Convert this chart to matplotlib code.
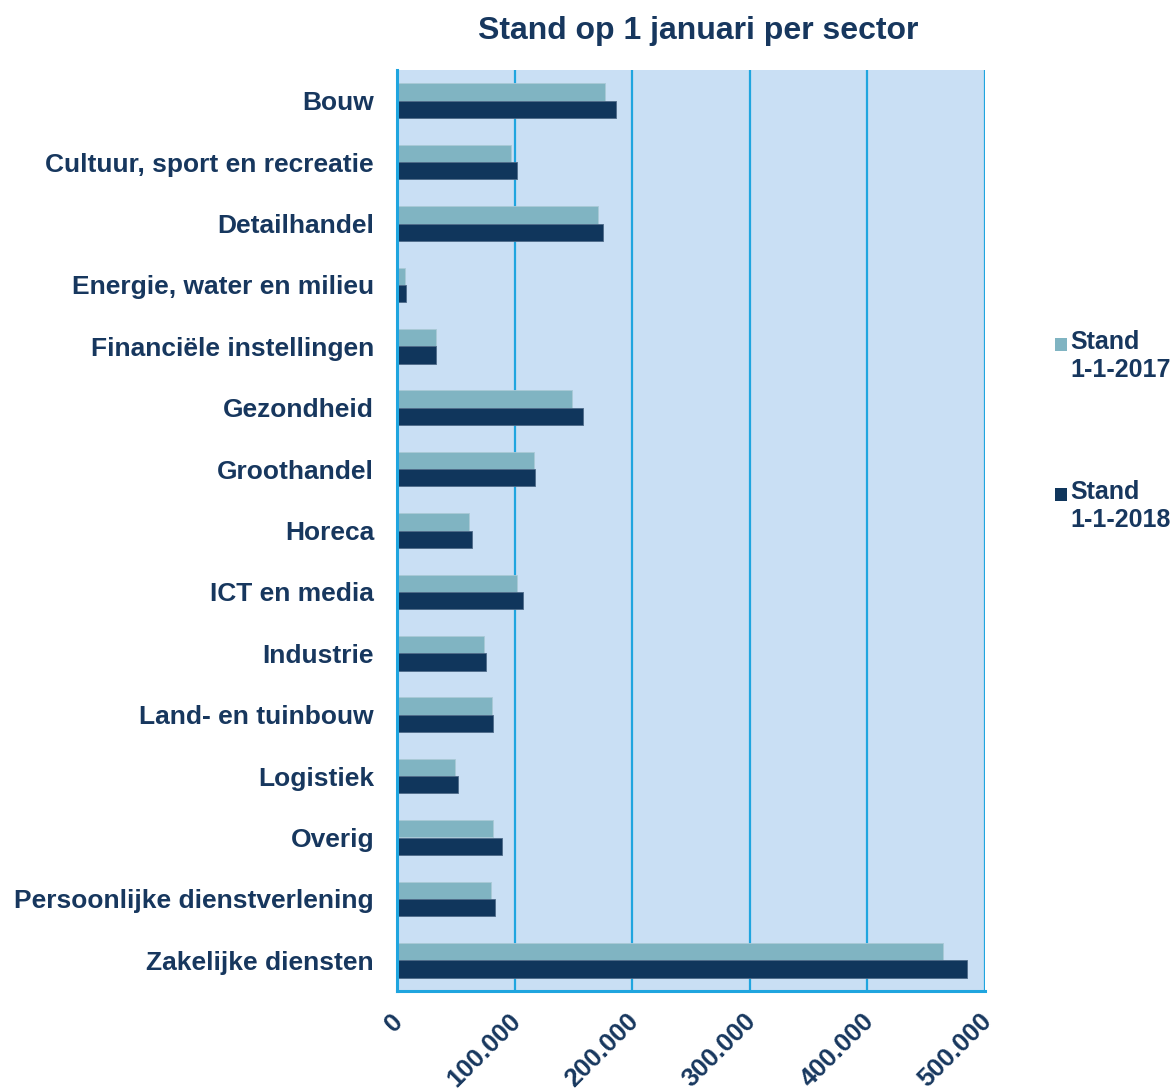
import matplotlib
matplotlib.use("Agg")
import matplotlib.pyplot as plt
from matplotlib.patches import Rectangle
import matplotlib.transforms as mtransforms
import numpy as np

plt.rcParams['font.family'] = ['Liberation Sans', 'DejaVu Sans']

categories = ["Bouw", "Cultuur, sport en recreatie", "Detailhandel",
              "Energie, water en milieu", "Financiële instellingen", "Gezondheid",
              "Groothandel", "Horeca", "ICT en media", "Industrie",
              "Land- en tuinbouw", "Logistiek", "Overig",
              "Persoonlijke dienstverlening", "Zakelijke diensten"]
stand_2017 = [177000, 97000, 171000, 6500, 32800, 149000, 116500, 61000, 102000,
              74000, 81000, 49500, 82000, 80000, 464000]
stand_2018 = [186000, 102000, 175000, 7300, 33000, 158000, 117000, 64000, 107000,
              76000, 81500, 52000, 89000, 83000, 485000]
series_labels = ["Stand\n1-1-2017", "Stand\n1-1-2018"]
xticks = [0, 100000, 200000, 300000, 400000, 500000]
xtick_labels = ["0", "100.000", "200.000", "300.000", "400.000", "500.000"]

c17 = "#80B4C2"
c18 = "#10365C"
txt = "#17375E"
grid_c = "#1FA5DF"
bg = "#C9DFF4"

fig = plt.figure(figsize=(11.76, 10.9), dpi=100)
ax = fig.add_axes([397/1176, 1-991/1090, (985-397)/1176, (991-70)/1090])
ax.set_facecolor(bg)

y = np.arange(len(categories))
h = 0.283
ax.barh(y - h/2, stand_2017, height=h, color=c17, edgecolor="#A9C9D6", linewidth=0.6,
        label=series_labels[0], zorder=3)
ax.barh(y + h/2, stand_2018, height=h, color=c18, edgecolor="#4D6A88", linewidth=0.6,
        label=series_labels[1], zorder=3)

ax.set_xlim(0, 500000)
ax.set_ylim(len(categories) - 0.5, -0.5)
ax.set_yticks(y)
ax.set_yticklabels(categories, fontsize=19, fontweight='bold', color=txt)
ax.set_xticks(xticks)
ax.set_xticklabels(xtick_labels, fontsize=18.5, fontweight='bold', color=txt,
                   rotation=45, ha='right', va='top', rotation_mode='anchor')
ax.tick_params(axis='both', length=0)
ax.tick_params(axis='y', pad=16.5)
ax.tick_params(axis='x', pad=13)
for lbl in ax.get_xticklabels():
    lbl.set_transform(lbl.get_transform() + mtransforms.ScaledTranslation(-0.06, 0.0, fig.dpi_scale_trans))

ax.grid(axis='x', color=grid_c, linewidth=1.6, zorder=1)
ax.grid(axis='y', visible=False)
ax.set_axisbelow(True)
for s in ['top', 'right']:
    ax.spines[s].set_visible(False)
for s in ['left', 'bottom']:
    ax.spines[s].set_color(grid_c)
    ax.spines[s].set_linewidth(2.2)
    ax.spines[s].set_zorder(4)

fig.text(698/1176, 1-31/1090, "Stand op 1 januari per sector", ha='center', va='center',
         fontsize=23, fontweight='bold', color=txt)

# legend (manual, square aligned with first text line)
leg_colors = [c17, c18]
leg_tops = [330, 480]
for lab, col, top in zip(series_labels, leg_colors, leg_tops):
    fig.text(1070/1176, 1-top/1090, lab, ha='left', va='top', fontsize=18,
             fontweight='bold', color=txt, linespacing=1.22)
    fig.add_artist(Rectangle((1055/1176, 1-(top+21)/1090), 12/1176, 13/1090,
                             transform=fig.transFigure, facecolor=col, edgecolor='none'))

fig.savefig("out.png", dpi=100)
